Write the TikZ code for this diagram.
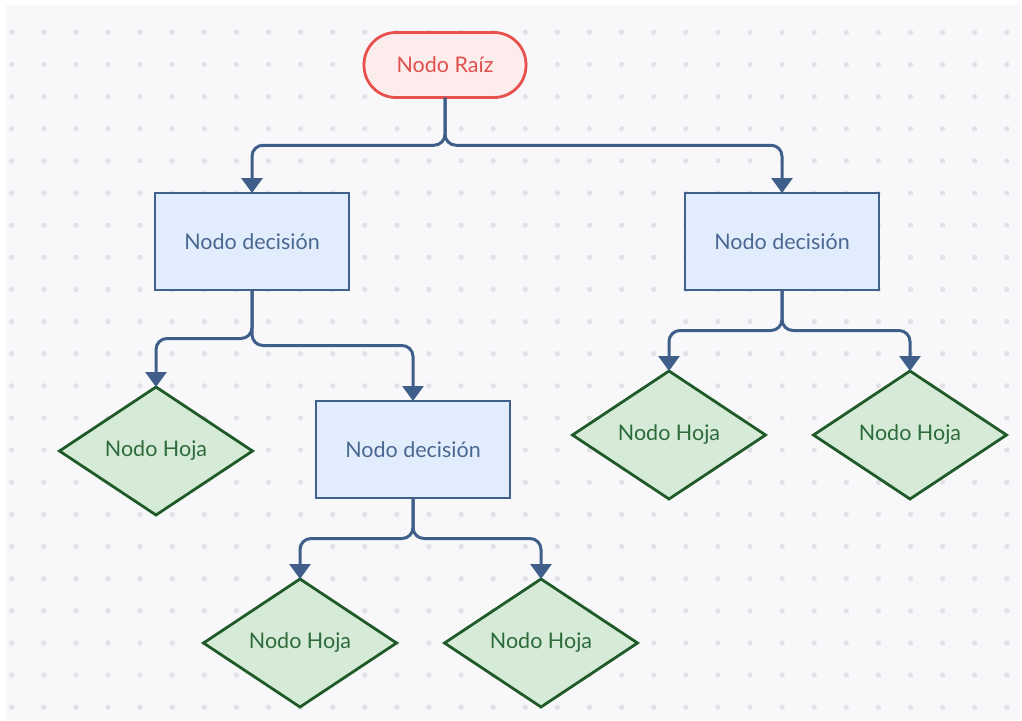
\documentclass[tikz,border=0pt]{standalone}
\usepackage{fontspec}
\setmainfont{Lato}
\usetikzlibrary{shapes.geometric,arrows.meta,calc}
\definecolor{bgc}{HTML}{F8F8FB}
\definecolor{dotc}{HTML}{E1E1E6}
\definecolor{rootline}{HTML}{E8504C}
\definecolor{rootfill}{HTML}{FDECEC}
\definecolor{roottext}{HTML}{E0504D}
\definecolor{boxline}{HTML}{41608B}
\definecolor{boxfill}{HTML}{E1EDFD}
\definecolor{boxtext}{HTML}{4A6790}
\definecolor{leafline}{HTML}{1F5A28}
\definecolor{leaffill}{HTML}{D5EBD8}
\definecolor{leaftext}{HTML}{2E6B3A}
\definecolor{edgec}{HTML}{3F5F8A}
\tikzset{
  lbl/.style={font=\fontsize{21.5}{24}\selectfont},
  rootnode/.style={lbl, draw=rootline, fill=rootfill, text=roottext, line width=2.8pt,
    rounded corners=32pt, minimum width=162pt, minimum height=65pt, inner sep=0pt, outer sep=0pt},
  decnode/.style={lbl, draw=boxline, fill=boxfill, text=boxtext, line width=2.8pt,
    minimum width=194pt, minimum height=97pt, inner sep=0pt, outer sep=0pt},
  leafnode/.style={lbl, diamond, draw=leafline, fill=leaffill, text=leaftext, line width=2.8pt,
    minimum width=193pt, minimum height=128pt, aspect=1.5, inner sep=0pt, outer sep=0pt},
  edge/.style={draw=edgec, line width=3pt, rounded corners=11pt,
    -{Triangle[width=21pt,length=15pt]}}
}
\begin{document}
\begin{tikzpicture}[x=1pt,y=-1pt]
\useasboundingbox (0,0) rectangle (1022,720);
\fill[bgc] (6,5) rectangle (1022,720);
\foreach \i in {0,...,31}{
  \foreach \j in {0,...,21}{
    \fill[dotc] ({11.7+32.1*\i},{32.3+32.14*\j}) circle (2.6pt);
  }
}
\node[rootnode] (root) at (445,65) {Nodo Raíz};
\node[decnode] (d1) at (252,241.5) {Nodo decisión};
\node[decnode] (d2) at (782,241.5) {Nodo decisión};
\node[decnode] (d3) at (413,449.5) {Nodo decisión};
\node[leafnode] (l1) at (156,451) {Nodo Hoja};
\node[leafnode] (l2) at (669,435) {Nodo Hoja};
\node[leafnode] (l3) at (910,435) {Nodo Hoja};
\node[leafnode] (l4) at (300,643) {Nodo Hoja};
\node[leafnode] (l5) at (541,643) {Nodo Hoja};
\foreach \a/\b in {root/d1, root/d2, d1/l1, d1/d3, d2/l2, d2/l3, d3/l4, d3/l5}{
  \draw[edge] (\a.south) |- ($(\a.south)!0.5!(\b.north)$) -| (\b.north);
}
\end{tikzpicture}
\end{document}
